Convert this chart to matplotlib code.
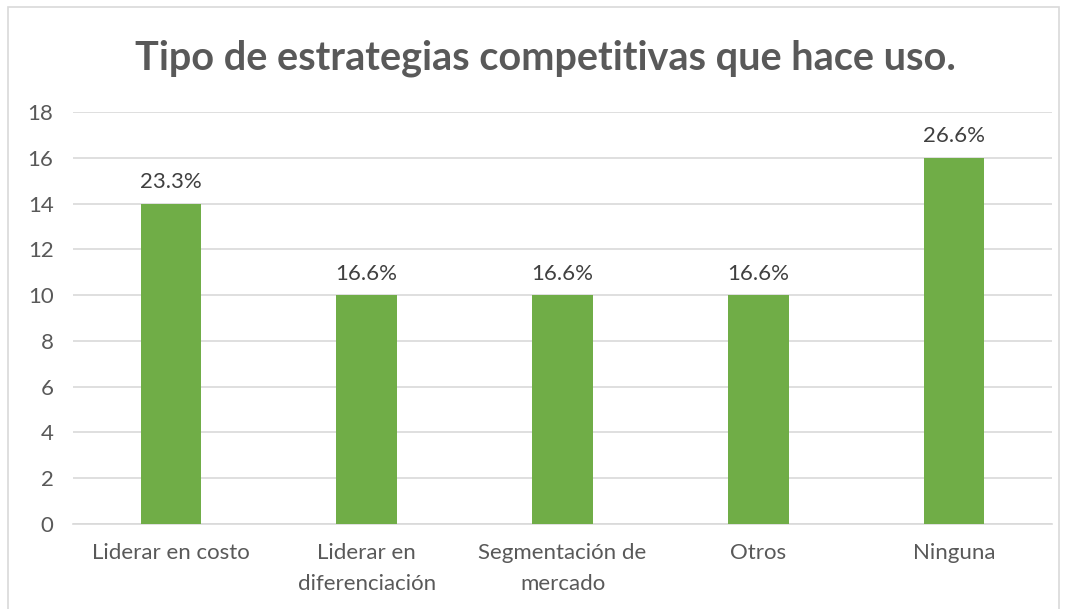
import matplotlib
matplotlib.use('Agg')
import matplotlib.pyplot as plt
from matplotlib.patches import Rectangle

categories = ['Liderar en costo', 'Liderar en\ndiferenciación', 'Segmentación de\nmercado', 'Otros', 'Ninguna']
values = [14, 10, 10, 10, 16]
pct_labels = ['23.3%', '16.6%', '16.6%', '16.6%', '26.6%']
yticks = [0, 2, 4, 6, 8, 10, 12, 14, 16, 18]

plt.rcParams['font.family'] = ['Lato', 'DejaVu Sans']
txt = '#595959'

fig = plt.figure(figsize=(10.67, 6.09), dpi=100)
ax = fig.add_axes([73 / 1067, 1 - 524 / 609, (1052 - 73) / 1067, (524 - 112) / 609])

x = list(range(len(categories)))
ax.bar(x, values, width=0.31, color='#70AD47', zorder=3)
for xi, v, lab in zip(x, values, pct_labels):
    ax.text(xi, v + 0.5, lab, ha='center', va='bottom', fontsize=16, color='#404040')

ax.set_xlim(-0.5, len(categories) - 0.5)
ax.set_ylim(0, 18)
ax.set_yticks(yticks)
ax.set_xticks(x)
ax.set_xticklabels(categories, fontsize=16, color=txt, linespacing=1.65)
ax.tick_params(axis='y', labelsize=16, labelcolor=txt, length=0, pad=14)
ax.tick_params(axis='x', length=0, pad=14)
ax.grid(axis='y', color='#D9D9D9', linewidth=1.2, zorder=0)
for s in ['top', 'right', 'left']:
    ax.spines[s].set_visible(False)
ax.spines['bottom'].set_color('#D9D9D9')
ax.spines['bottom'].set_linewidth(1.2)

fig.text(545 / 1067, 1 - 58 / 609, 'Tipo de estrategias competitivas que hace uso.',
         ha='center', va='center', fontsize=28.5, fontweight='bold', color=txt)

fig.patches.append(Rectangle((8 / 1067, -0.01), 1051 / 1067, 1 - 7 / 609 + 0.01,
                             transform=fig.transFigure, fill=False,
                             edgecolor='#D9D9D9', linewidth=1.2))

fig.savefig('out.png', dpi=100)
